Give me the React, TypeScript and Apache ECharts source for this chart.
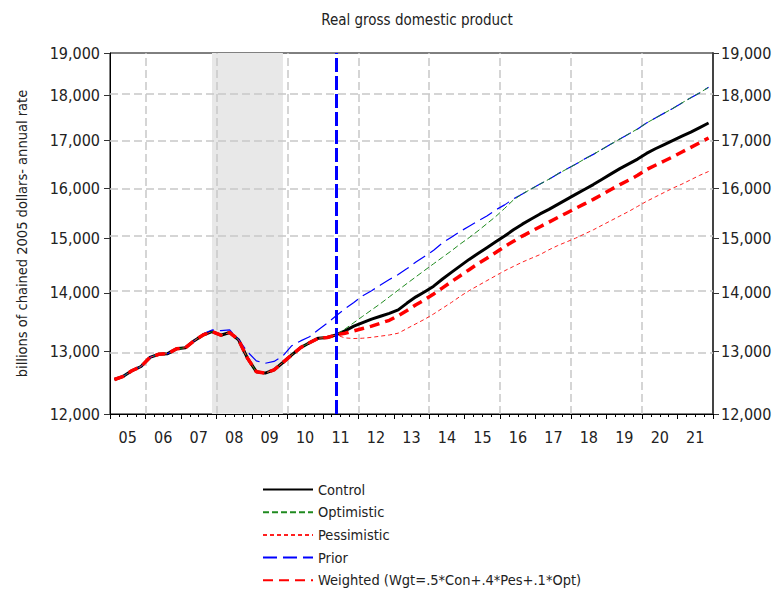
import React, { useEffect, useRef } from 'react';
import * as echarts from 'echarts';

const FONT = "'Liberation Sans Narrow', 'Arial Narrow', 'DejaVu Sans Condensed', sans-serif";

const quarters: string[] = [];
for (let y = 2005; y <= 2021; y++) for (let q = 1; q <= 4; q++) quarters.push(`${y}Q${q}`);

const yearLabels = ['05', '06', '07', '08', '09', '10', '11', '12', '13', '14', '15', '16', '17', '18', '19', '20', '21'];
const yTicks = [12000, 13000, 14000, 15000, 16000, 17000, 18000, 19000];
const gridYears = [2006, 2008, 2010, 2012, 2014, 2016, 2018, 2020];
const recessionStart = '2007Q4';
const recessionEnd = '2009Q4';
const forecastStart = '2011Q2';

// 2005Q1 .. 2011Q2 actuals
const history = [12539, 12589, 12683, 12748, 12896, 12948, 12958, 13038, 13056, 13174, 13270, 13326, 13266, 13311, 13187, 12884, 12664, 12641, 12694, 12813, 12938, 13059, 13140, 13216, 13228, 13271];

// 2011Q3 .. 2021Q4
const controlForecast = [13340, 13420, 13480, 13540, 13590, 13640, 13700, 13820, 13930, 14020, 14120, 14250, 14370, 14490, 14610, 14720, 14830, 14940, 15050, 15170, 15280, 15380, 15480, 15570, 15670, 15770, 15870, 15970, 16070, 16180, 16290, 16400, 16500, 16600, 16720, 16820, 16910, 17000, 17090, 17180, 17280, 17380];
const optimisticForecast = [13370, 13480, 13590, 13700, 13810, 13930, 14050, 14170, 14290, 14410, 14530, 14650, 14770, 14900, 15020, 15150, 15290, 15430, 15590, 15760, 15880, 15980, 16080, 16180, 16290, 16390, 16490, 16600, 16700, 16810, 16920, 17030, 17140, 17250, 17380, 17490, 17600, 17710, 17830, 17950, 18060, 18190];
const pessimisticForecast = [13220, 13210, 13215, 13230, 13250, 13270, 13300, 13380, 13460, 13540, 13630, 13730, 13830, 13940, 14040, 14130, 14220, 14310, 14400, 14480, 14560, 14630, 14700, 14790, 14870, 14940, 15010, 15090, 15170, 15260, 15350, 15440, 15530, 15630, 15730, 15820, 15910, 16000, 16080, 16170, 16260, 16340];
const weightedForecast = [13300, 13340, 13380, 13420, 13470, 13520, 13600, 13690, 13790, 13880, 13980, 14090, 14200, 14310, 14420, 14530, 14630, 14740, 14850, 14950, 15050, 15140, 15230, 15320, 15410, 15500, 15590, 15680, 15770, 15870, 15970, 16070, 16160, 16260, 16380, 16470, 16560, 16650, 16750, 16850, 16950, 17050];
// 2005Q1 .. 2021Q4
const prior = [12539, 12589, 12683, 12748, 12896, 12948, 12958, 13038, 13056, 13174, 13290,
  13355, 13345, 13355, 13190, 12990, 12840, 12800, 12830, 12920, 13090, 13170, 13240, 13360, 13470, 13600,
  13720, 13830, 13950, 14040, 14140, 14240, 14330, 14440, 14560, 14670, 14780, 14920, 15030, 15140, 15240, 15340, 15440, 15560, 15660, 15780, 15880, 15980, 16080, 16180, 16290, 16390, 16490, 16600, 16700, 16810, 16920, 17030, 17140, 17250, 17380, 17490, 17600, 17710, 17830, 17950, 18060, 18190];

const NAMES = ['Control', 'Optimistic', 'Pessimistic', 'Prior', 'Weighted (Wgt=.5*Con+.4*Pes+.1*Opt)'];

const qx = (label: string) => {
  const y = +label.slice(0, 4);
  const q = +label.slice(5);
  return y + (q - 0.5) / 4;
};

const toData = (vals: number[]) => vals.map((v, i) => [qx(quarters[i]), Math.log(v)]);

const yAxisCommon = (pos: 'left' | 'right') => ({
  type: 'value',
  position: pos,
  min: Math.log(12000),
  max: Math.log(19000),
  axisLine: { show: true, lineStyle: { color: pos === 'left' ? '#000' : '#444', width: pos === 'left' ? 1 : 2 } },
  axisTick: { show: true, length: 6, customValues: yTicks.map(Math.log), lineStyle: { color: '#333' } },
  axisLabel: {
    customValues: yTicks.map(Math.log),
    formatter: (v: number) => Math.round(Math.exp(v)).toLocaleString('en-US'),
    fontSize: 16,
    fontFamily: FONT,
    color: '#222',
    margin: pos === 'left' ? 10 : 8,
  },
  splitLine: { show: false },
});

export default function App() {
  const ref = useRef<HTMLDivElement>(null);
  useEffect(() => {
    if (!ref.current) return;
    const chart = echarts.init(ref.current, undefined, { renderer: 'svg' });
    const gridLineStyle = { color: '#c8c8c8', width: 1.5, type: [8, 4] as any };
    chart.setOption({
      animation: false,
      backgroundColor: '#fff',
      textStyle: { fontFamily: FONT },
      title: {
        text: 'Real gross domestic product',
        left: 412,
        top: 7,
        textAlign: 'center',
        textStyle: { fontSize: 15, fontWeight: 'normal', color: '#222', fontFamily: FONT },
      },
      grid: { left: 110, right: 64, top: 53, bottom: 178, show: true, borderColor: '#000', borderWidth: 1, backgroundColor: 'transparent' },
      legend: {
        orient: 'vertical',
        left: 262,
        top: 482,
        padding: 0,
        itemWidth: 50,
        itemHeight: 14,
        itemGap: 7.7,
        data: NAMES,
        itemStyle: { opacity: 0 },
        textStyle: { fontSize: 14.5, fontFamily: FONT, color: '#222', lineHeight: 14 },
      },
      xAxis: [
        {
          type: 'value',
          position: 'bottom',
          min: 2005,
          max: 2022,
          interval: 1,
          axisLine: { show: true, lineStyle: { color: '#000', width: 1 } },
          axisTick: { show: true, length: 5, lineStyle: { color: '#000' } },
          minorTick: { show: true, splitNumber: 4, length: 3, lineStyle: { color: '#000' } },
          axisLabel: { show: false },
          splitLine: { show: false },
          minorSplitLine: { show: false },
        },
        {
          type: 'category',
          position: 'bottom',
          data: yearLabels,
          boundaryGap: true,
          axisLine: { show: false },
          axisTick: { show: false },
          axisLabel: { fontSize: 16, fontFamily: FONT, color: '#222', margin: 15 },
          splitLine: { show: false },
        },
      ],
      yAxis: [
        {
          ...yAxisCommon('left'),
          name: 'billions of chained 2005 dollars- annual rate',
          nameLocation: 'middle',
          nameRotate: 90,
          nameGap: 81,
          nameTextStyle: { fontSize: 14.5, fontFamily: FONT, color: '#222' },
        },
        yAxisCommon('right'),
      ],
      series: [
        {
          name: '_bg',
          type: 'line',
          data: [[2005, Math.log(12000)]],
          symbol: 'none',
          lineStyle: { opacity: 0 },
          silent: true,
          markArea: {
            silent: true,
            z: 1,
            itemStyle: { color: '#e8e8e8' },
            data: [[{ xAxis: qx(recessionStart) }, { xAxis: qx(recessionEnd) }]],
          },
        },
        {
          name: '_grid',
          type: 'line',
          data: [[2005, Math.log(12000)]],
          symbol: 'none',
          lineStyle: { opacity: 0 },
          silent: true,
          markLine: {
            silent: true,
            z: 2,
            symbol: 'none',
            label: { show: false },
            lineStyle: gridLineStyle,
            emphasis: { disabled: true },
            data: [
              ...gridYears.map((y) => ({ xAxis: y })),
              ...yTicks.slice(1, -1).map((v) => ({ yAxis: Math.log(v) })),
            ],
          },
        },
        {
          name: NAMES[0],
          type: 'line',
          z: 10,
          data: toData(history.concat(controlForecast)),
          symbol: 'none',
          color: '#000',
          lineStyle: { color: '#000', width: 3 },
        },
        {
          name: NAMES[3],
          type: 'line',
          z: 10,
          data: toData(prior),
          symbol: 'none',
          color: '#0000ff',
          lineStyle: { color: '#0000ff', width: 1.2, type: [14, 6] },
        },
        {
          name: NAMES[1],
          type: 'line',
          z: 10,
          data: toData(history.concat(optimisticForecast)),
          symbol: 'none',
          color: '#1f8a1f',
          lineStyle: { color: '#1f8a1f', width: 1, type: [6, 3] },
        },
        {
          name: NAMES[2],
          type: 'line',
          z: 10,
          data: toData(history.concat(pessimisticForecast)),
          symbol: 'none',
          color: '#ff2020',
          lineStyle: { color: '#ff2020', width: 1, type: [4, 3] },
        },
        {
          name: NAMES[4],
          type: 'line',
          z: 11,
          data: toData(history.concat(weightedForecast)),
          symbol: 'none',
          color: '#ff0000',
          lineStyle: { color: '#ff0000', width: 3.5, type: [10, 6] },
        },
        {
          name: '_forecast',
          type: 'line',
          data: [[2005, Math.log(12000)]],
          symbol: 'none',
          lineStyle: { opacity: 0 },
          silent: true,
          markLine: {
            silent: true,
            z: 12,
            symbol: 'none',
            label: { show: false },
            lineStyle: { color: '#0000ff', width: 3, type: [14, 4] },
            emphasis: { disabled: true },
            data: [{ xAxis: qx(forecastStart) }],
          },
        },
      ],
    });
    return () => chart.dispose();
  }, []);
  return <div ref={ref} style={{ position: 'fixed', left: 0, top: 0, width: 777, height: 592 }} />;
}
